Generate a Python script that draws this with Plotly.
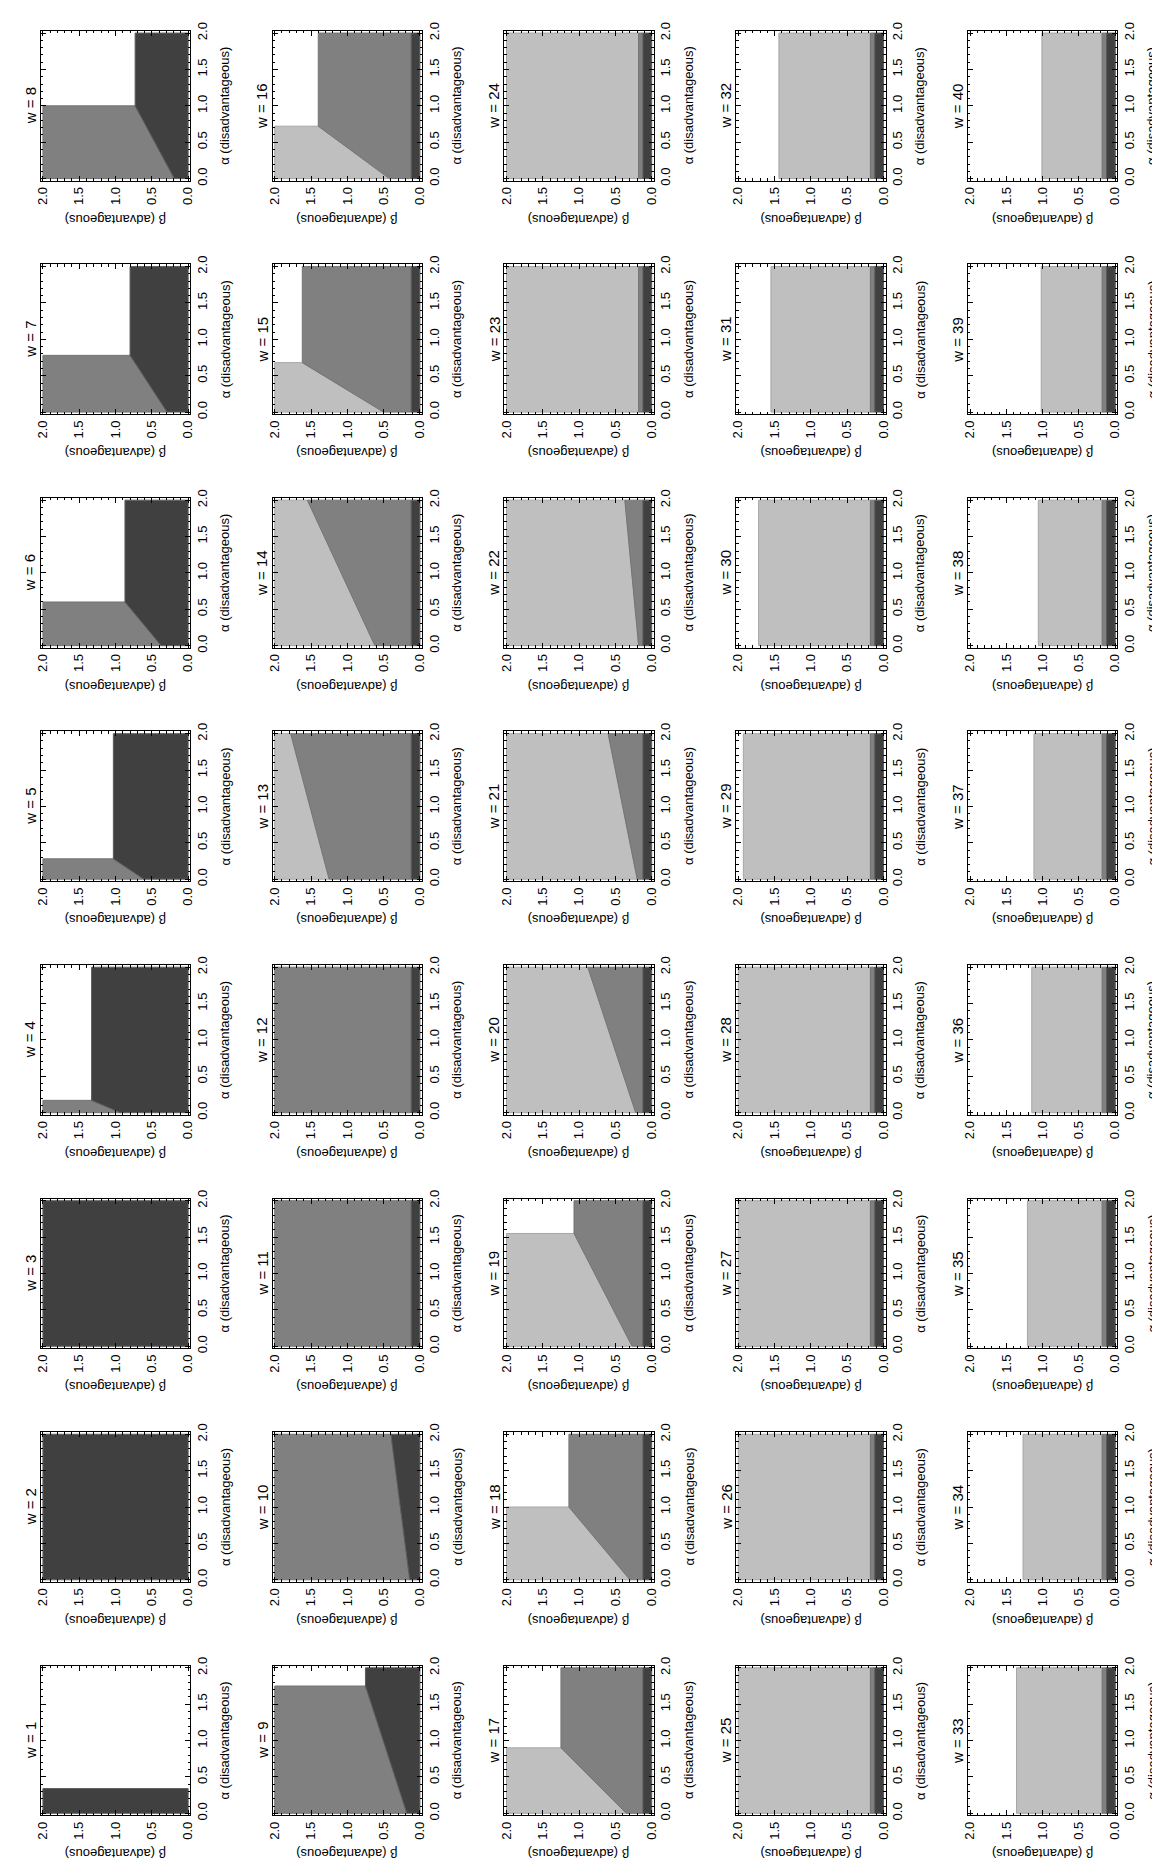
import plotly.graph_objects as go

# ---------------- data ----------------
W_VALUES = list(range(1, 41))
X_TITLE = "β (advantageous)"
Y_TITLE = "α (disadvantageous)"

COLORS = {"dark": "#404040", "medium": "#808080", "light": "#bfbfbf"}
EDGES = {"dark": "#5c5c5c", "medium": "#747474", "light": "#a6a6a6"}

W1_DARK_ALPHA = 0.34          # w=1: dark for alpha below this
ALL_DARK = [2, 3]
DARK_STRIP = 0.12             # dark strip beta < this (w >= 11)
MEDIUM_BAND = 0.18            # medium band top (w >= 23)

# w: (alpha_cut, beta_cut, beta at alpha=0) -> white / medium / dark
KINK_DM = {4: (0.17, 1.33, 0.93), 5: (0.28, 1.03, 0.61), 6: (0.60, 0.87, 0.37),
           7: (0.78, 0.80, 0.29), 8: (1.00, 0.73, 0.19), 9: (1.75, 0.75, 0.18)}
# w: (beta at alpha=0, beta at alpha=2) -> medium / dark
SLOPE_DM = {10: (0.14, 0.40)}
# w: (alpha_cut, beta_cut, beta at alpha=0) -> white / light / medium
KINK_LM = {15: (0.68, 1.62, 0.50), 16: (0.72, 1.40, 0.42), 17: (0.90, 1.25, 0.35),
           18: (1.00, 1.14, 0.30), 19: (1.55, 1.07, 0.27)}
# w: (beta at alpha=0, beta at alpha=2) -> light / medium
SLOPE_LM = {13: (1.25, 1.78), 14: (0.62, 1.55), 20: (0.22, 0.88),
            21: (0.20, 0.60), 22: (0.18, 0.37)}
# w: beta above which the panel is white
WHITE_TOP = {29: 1.93, 30: 1.72, 31: 1.55, 32: 1.44, 33: 1.36, 34: 1.27,
             35: 1.21, 36: 1.15, 37: 1.12, 38: 1.06, 39: 1.02, 40: 1.01}


def regions(w):
    full = [(0, 0), (2, 0), (2, 2), (0, 2)]
    R = []
    if w == 1:
        a = W1_DARK_ALPHA
        R.append(("dark", [(0, 0), (a, 0), (a, 2), (0, 2)]))
    elif w in ALL_DARK:
        R.append(("dark", full))
    elif w in KINK_DM:
        a1, b1, b0 = KINK_DM[w]
        R.append(("medium", [(0, b0), (a1, b1), (a1, 2), (0, 2)]))
        R.append(("dark", [(0, 0), (0, b0), (a1, b1), (2, b1), (2, 0)]))
    elif w in SLOPE_DM:
        b0, b2 = SLOPE_DM[w]
        R.append(("medium", [(0, b0), (2, b2), (2, 2), (0, 2)]))
        R.append(("dark", [(0, 0), (0, b0), (2, b2), (2, 0)]))
    else:
        s = DARK_STRIP
        if w in KINK_LM:
            a1, b1, b0 = KINK_LM[w]
            R.append(("light", [(0, b0), (a1, b1), (a1, 2), (0, 2)]))
            R.append(("medium", [(0, s), (0, b0), (a1, b1), (2, b1), (2, s)]))
        elif w in SLOPE_LM:
            b0, b2 = SLOPE_LM[w]
            R.append(("light", [(0, b0), (2, b2), (2, 2), (0, 2)]))
            R.append(("medium", [(0, s), (0, b0), (2, b2), (2, s)]))
        elif w < 23:
            R.append(("medium", [(0, s), (2, s), (2, 2), (0, 2)]))
        else:
            top = WHITE_TOP.get(w, 2.0)
            m = MEDIUM_BAND
            R.append(("light", [(0, m), (2, m), (2, top), (0, top)]))
            R.append(("medium", [(0, s), (2, s), (2, m), (0, m)]))
        R.append(("dark", [(0, 0), (2, 0), (2, s), (0, s)]))
    return R


# ---------------- layout (figure is a landscape grid turned a quarter) ----------------
FIG_W, FIG_H = 1160, 1865
FRAME = 151
FONT = "Liberation Sans, Arial, Helvetica, sans-serif"

fig = go.Figure()
annotations = []
layout = dict(width=FIG_W, height=FIG_H, margin=dict(l=0, r=0, t=0, b=0),
              paper_bgcolor="white", plot_bgcolor="white", showlegend=False,
              font=dict(family=FONT, color="black", size=13))

for i, w in enumerate(W_VALUES, start=1):
    c = (w - 1) // 8
    r = 7 - ((w - 1) % 8)
    left = 27 + 234 * c
    top = 14 + 235.3 * r
    xd = [left / FIG_W, (left + FRAME) / FIG_W]
    yd = [(FIG_H - top - FRAME) / FIG_H, (FIG_H - top) / FIG_H]
    suf = "" if i == 1 else str(i)
    xa, ya = f"x{suf}", f"y{suf}"

    for col, poly in regions(w):
        pts = poly + [poly[0]]
        fig.add_trace(go.Scatter(
            x=[p[1] for p in pts], y=[p[0] for p in pts],
            mode="lines", fill="toself", fillcolor=COLORS[col],
            line=dict(color=EDGES[col], width=1),
            hoverinfo="skip", showlegend=False, xaxis=xa, yaxis=ya))

    common = dict(showgrid=False, zeroline=False, showline=True, linecolor="black",
                  linewidth=1, mirror="ticks", ticks="inside", ticklen=5,
                  tickcolor="black", tickwidth=1, tickmode="linear", tick0=0,
                  dtick=0.5, tickformat=".1f", tickangle=-90,
                  tickfont=dict(family=FONT, size=13, color="black"),
                  minor=dict(ticks="inside", ticklen=2.5, tickmode="linear",
                             tick0=0, dtick=0.1, tickcolor="black", showgrid=False),
                  fixedrange=True)
    layout[f"xaxis{suf}"] = dict(domain=xd, range=[2.03, -0.03], anchor=ya,
                                 side="bottom", **common)
    layout[f"yaxis{suf}"] = dict(domain=yd, range=[-0.03, 2.03], anchor=xa,
                                 side="right", **common)

    dom_x, dom_y = f"{xa} domain", f"{ya} domain"
    annotations.append(dict(text=f"w = {w}", xref=dom_x, yref=dom_y,
                            x=-10.5 / FRAME, y=0.5, textangle=-90, showarrow=False,
                            xanchor="center", yanchor="middle",
                            font=dict(family=FONT, size=15, color="black")))
    annotations.append(dict(text=X_TITLE, xref=dom_x, yref=dom_y,
                            x=0.5, y=-39 / FRAME, textangle=180, showarrow=False,
                            xanchor="center", yanchor="middle",
                            font=dict(family=FONT, size=13, color="black")))
    annotations.append(dict(text=Y_TITLE, xref=dom_x, yref=dom_y,
                            x=1 + 35 / FRAME, y=0.5, textangle=-90, showarrow=False,
                            xanchor="center", yanchor="middle",
                            font=dict(family=FONT, size=13, color="black")))

layout["annotations"] = annotations
fig.update_layout(**layout)
fig.write_html("out.html")
